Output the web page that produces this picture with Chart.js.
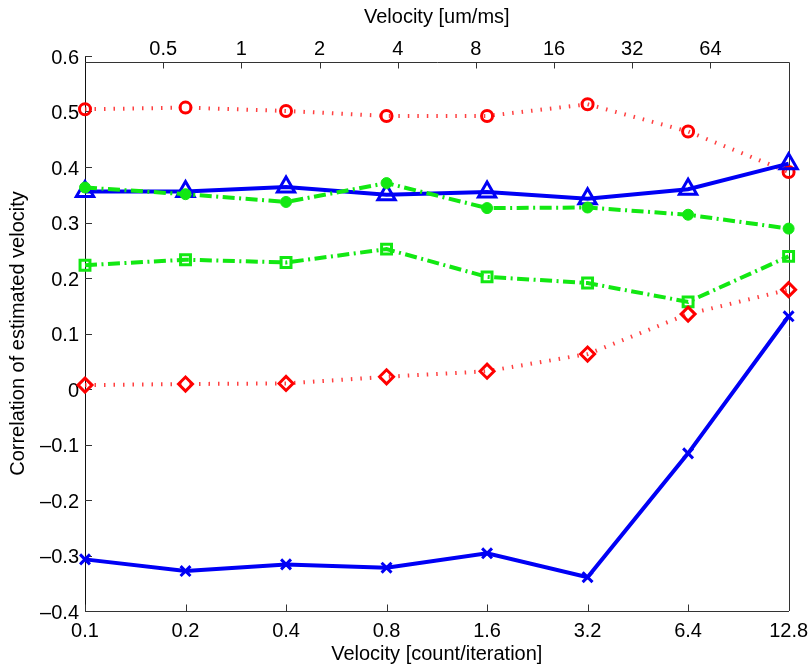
<!DOCTYPE html>
<html>
<head>
<meta charset="UTF-8">
<title>Correlation of estimated velocity</title>
<script src="https://cdn.jsdelivr.net/npm/chart.js@4.4.0/dist/chart.umd.min.js"></script>
<style>
    body { margin: 0; background: #fff; }
</style>
</head>
<body>
<canvas id="myChart" width="812" height="669"></canvas>
<script>
    // bottom axis: velocity in count/iteration (log2 spaced)
    var velocityCount = [0.1, 0.2, 0.4, 0.8, 1.6, 3.2, 6.4, 12.8];
    var bottomTickLabels = ['0.1', '0.2', '0.4', '0.8', '1.6', '3.2', '6.4', '12.8'];
    // top axis: velocity in um/ms
    var topTicks = [0.5, 1, 2, 4, 8, 16, 32, 64];
    var topTickLabels = ['0.5', '1', '2', '4', '8', '16', '32', '64'];
    var yTicks = [-0.4, -0.3, -0.2, -0.1, 0, 0.1, 0.2, 0.3, 0.4, 0.5, 0.6];
    var yTickLabels = ['\u20130.4', '\u20130.3', '\u20130.2', '\u20130.1', '0', '0.1', '0.2', '0.3', '0.4', '0.5', '0.6'];

    // series values
    var redCircles    = [0.504, 0.507, 0.501, 0.492, 0.492, 0.513, 0.464, 0.391];
    var blueTriangles = [0.356, 0.356, 0.364, 0.350, 0.355, 0.343, 0.360, 0.406];
    var greenDots     = [0.363, 0.351, 0.337, 0.371, 0.326, 0.327, 0.314, 0.289];
    var greenSquares  = [0.223, 0.233, 0.228, 0.252, 0.202, 0.191, 0.157, 0.239];
    var redDiamonds   = [0.007, 0.009, 0.010, 0.022, 0.032, 0.063, 0.135, 0.179];
    var blueCrosses   = [-0.307, -0.328, -0.316, -0.322, -0.296, -0.339, -0.116, 0.131];

    var RED = '#ff0000', GREEN = '#12e812', BLUE = '#0000f5';
    var font = { family: "'Liberation Sans', Arial, Helvetica, sans-serif", size: 20 };
    var bottomTickFont = { family: font.family, size: 20, lineHeight: 1.7 };
    var dotted = [1.5, 8];
    var dashDot = [12, 4.5, 2, 4.5];

    function series(values) {
        return values.map(function (v, i) { return { x: velocityCount[i], y: v }; });
    }

    function line(values, color, dash, style, radius, filled, pw) {
        return {
            data: series(values),
            borderColor: dash === dotted ? 'rgba(255,30,30,0.85)' : color,
            borderWidth: 4,
            borderDash: dash,
            pointStyle: style,
            pointRadius: radius,
            pointHoverRadius: radius,
            pointBorderWidth: pw,
            pointBorderColor: color,
            pointBackgroundColor: filled ? color : 'rgba(0,0,0,0)',
            fill: false,
            tension: 0,
            clip: false
        };
    }

    // MATLAB style box: inward ticks, top axis line a little below the 0.6 tick
    var matlabBox = {
        id: 'matlabBox',
        beforeDatasetsDraw: function (chart) {
            var ctx = chart.ctx, a = chart.chartArea;
            var xb = chart.scales.x, xt = chart.scales.x2, y = chart.scales.y;
            var topLine = Math.round(a.top + 6) + 0.5;
            var right = Math.round(a.right) + 0.5;
            ctx.save();
            ctx.lineWidth = 1;
            ctx.strokeStyle = '#333';
            ctx.beginPath();
            ctx.moveTo(a.left, topLine);
            ctx.lineTo(right, topLine);
            ctx.lineTo(right, a.bottom);
            xb.ticks.forEach(function (t) {
                var px = Math.round(xb.getPixelForValue(t.value)) + 0.5;
                ctx.moveTo(px, a.bottom);
                ctx.lineTo(px, a.bottom - 6.5);
            });
            xt.ticks.forEach(function (t) {
                var px = Math.round(xt.getPixelForValue(t.value)) + 0.5;
                ctx.moveTo(px, topLine);
                ctx.lineTo(px, topLine + 6);
            });
            y.ticks.forEach(function (t) {
                var py = Math.round(y.getPixelForValue(t.value)) + 0.5;
                ctx.moveTo(a.left, py);
                ctx.lineTo(a.left + 7, py);
            });
            ctx.stroke();
            ctx.restore();
        }
    };

    var ctx = document.getElementById('myChart').getContext('2d');
    var chart = new Chart(ctx, {
        type: 'line',
        data: {
            datasets: [
                line(greenDots, GREEN, dashDot, 'circle', 5.5, true, 1),
                line(blueTriangles, BLUE, [], 'triangle', 10, false, 3),
                line(redDiamonds, RED, dotted, 'rectRot', 7, false, 3),
                line(greenSquares, GREEN, dashDot, 'rect', 7, false, 3),
                line(redCircles, RED, dotted, 'circle', 5.5, false, 3),
                line(blueCrosses, BLUE, [], 'crossRot', 7, false, 3)
            ]
        },
        options: {
            responsive: false,
            animation: false,
            layout: { padding: { left: 0, right: 23.4, top: 0, bottom: 0 } },
            plugins: { legend: { display: false }, tooltip: { enabled: false } },
            scales: {
                x: {
                    type: 'logarithmic',
                    position: 'bottom',
                    min: 0.1,
                    max: 12.8,
                    afterBuildTicks: function (s) { s.ticks = velocityCount.map(function (v) { return { value: v }; }); },
                    afterFit: function (s) { s.height = 58; },
                    grid: { display: false, drawTicks: false },
                    border: { display: true, color: '#333', width: 1 },
                    ticks: {
                        color: '#000', font: bottomTickFont, padding: 3, autoSkip: false, maxRotation: 0,
                        callback: function (v, i) { return bottomTickLabels[i]; }
                    },
                    title: { display: true, text: 'Velocity [count/iteration]', color: '#000', font: font, padding: { top: 0, bottom: 3 } }
                },
                x2: {
                    type: 'logarithmic',
                    axis: 'x',
                    position: 'top',
                    min: 0.25,
                    max: 128,
                    afterBuildTicks: function (s) { s.ticks = topTicks.map(function (v) { return { value: v }; }); },
                    afterFit: function (s) { s.height = 56; },
                    grid: { display: false, drawTicks: false },
                    border: { display: false },
                    ticks: {
                        color: '#000', font: font, padding: -5, autoSkip: false, maxRotation: 0,
                        callback: function (v, i) { return topTickLabels[i]; }
                    },
                    title: { display: true, text: 'Velocity [um/ms]', color: '#000', font: font, padding: { top: 5, bottom: 0 } }
                },
                y: {
                    type: 'linear',
                    min: -0.4,
                    max: 0.6,
                    afterBuildTicks: function (s) { s.ticks = yTicks.map(function (v) { return { value: v }; }); },
                    afterFit: function (s) { s.width = 85; },
                    grid: { display: false, drawTicks: false },
                    border: { display: true, color: '#111', width: 1 },
                    ticks: {
                        color: '#000', font: font, padding: 6, autoSkip: false, labelOffset: 2,
                        callback: function (v, i) { return yTickLabels[i]; }
                    },
                    title: { display: true, text: 'Correlation of estimated velocity', color: '#000', font: font, padding: { top: 6, bottom: 0 } }
                }
            }
        },
        plugins: [matlabBox]
    });
</script>
</body>
</html>
